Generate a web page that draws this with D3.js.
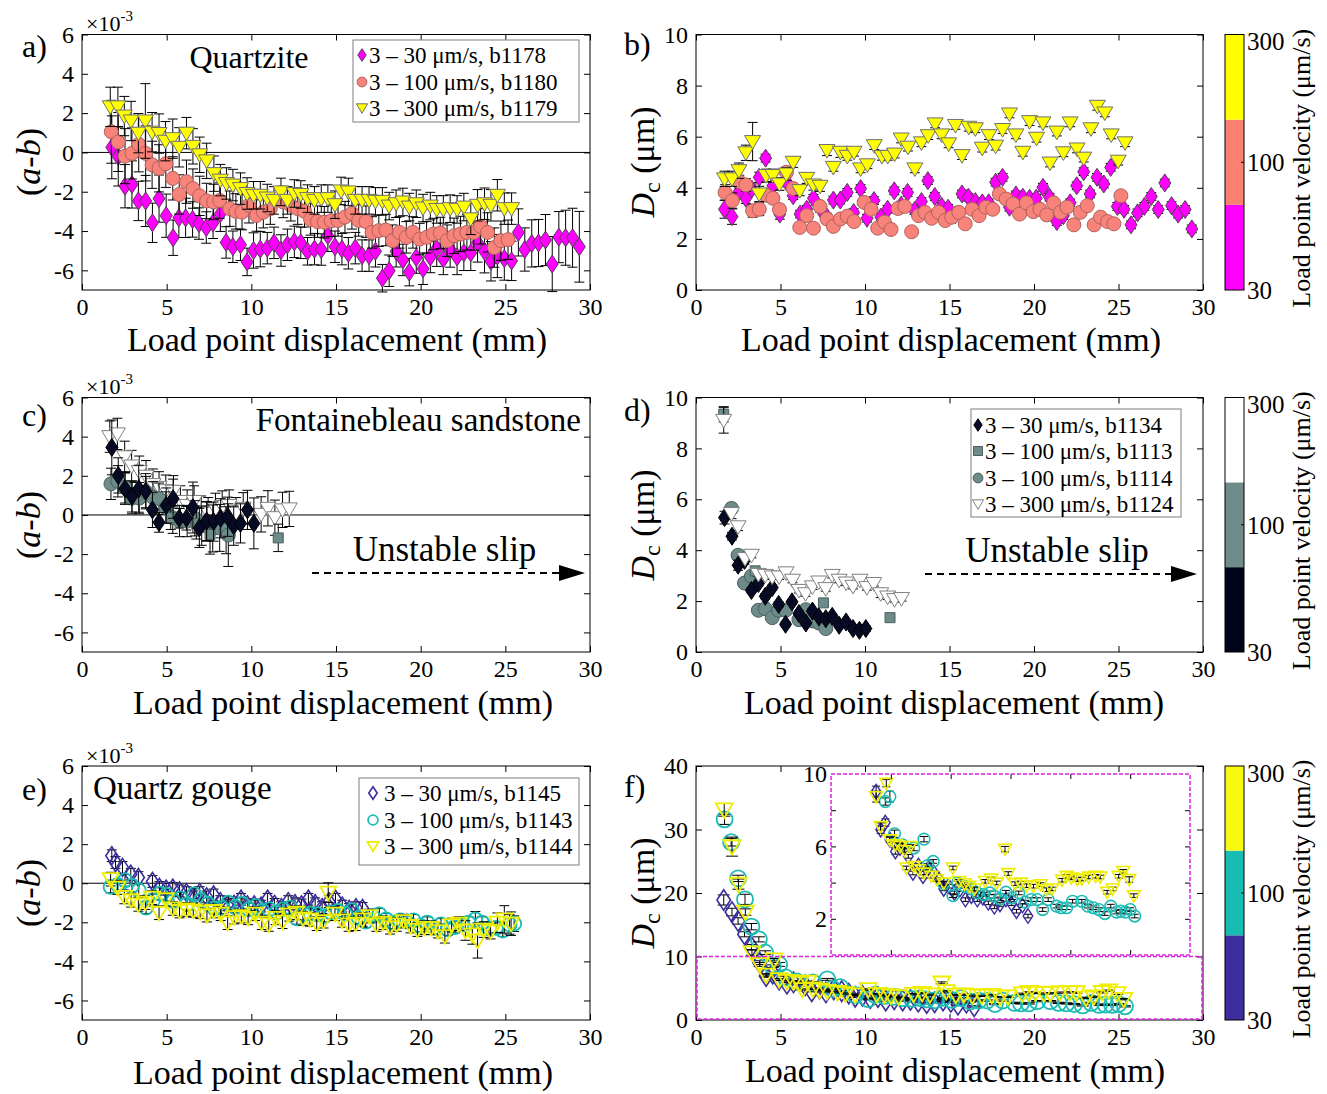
<!DOCTYPE html>
<html>
<head>
<meta charset="utf-8">
<script src="https://cdn.jsdelivr.net/npm/d3@7"></script>
<style>
body { margin: 0; background: #fff; }
svg { font-family: "Liberation Serif", "Times New Roman", serif; }
</style>
</head>
<body>
<svg id="fig" width="1327" height="1094"></svg>
<script>
// ---- data: [load point displacement (mm), value, error] ----
// a) Quartzite (a-b) x1e-3
var aB1178 = [[1.76,0.26,1.6],[2.14,-0.21,1.5],[2.54,-1.72,1.1],[2.95,-1.63,1.2],[3.33,-2.47,1.0],[3.76,-2.47,1.3],[4.16,-3.58,1.0],[4.55,-2.35,1.2],[4.97,-3.22,1.1],[5.38,-4.34,0.9],[5.72,-3.33,1.0],[6.12,-3.33,1.0],[6.53,-3.41,0.9],[6.91,-3.62,0.8],[7.34,-3.82,0.8],[7.74,-3.58,0.8],[8.17,-3.12,0.9],[8.51,-4.58,0.8],[8.91,-4.80,0.8],[9.36,-4.70,0.8],[9.75,-5.57,0.7],[10.13,-4.99,0.9],[10.53,-4.92,0.9],[10.94,-4.87,0.8],[11.34,-4.60,0.8],[11.75,-4.99,0.8],[12.13,-4.70,0.8],[12.54,-4.55,0.8],[12.92,-4.60,0.8],[13.32,-5.03,0.7],[13.73,-4.92,0.8],[14.13,-4.94,0.8],[14.52,-4.24,0.8],[14.94,-4.80,0.8],[15.35,-4.92,0.8],[15.73,-5.13,0.8],[16.14,-4.87,0.8],[16.54,-5.25,0.8],[16.95,-5.25,0.8],[17.33,-5.03,0.8],[17.74,-6.40,0.7],[18.14,-6.02,0.8],[18.55,-5.03,0.8],[18.95,-5.47,0.8],[19.33,-6.09,0.7],[19.74,-5.35,0.8],[20.14,-5.92,0.8],[20.57,-5.32,0.8],[20.95,-4.90,0.9],[21.34,-5.42,0.8],[21.74,-4.94,0.9],[22.15,-5.32,0.9],[22.55,-5.11,0.9],[22.96,-5.11,0.9],[23.36,-4.58,1.0],[23.77,-5.03,1.1],[24.15,-5.54,1.0],[24.53,-5.27,1.1],[24.94,-5.40,1.1],[25.37,-5.52,1.0],[25.77,-4.07,1.2],[26.15,-4.94,1.1],[26.56,-4.63,1.2],[26.96,-4.61,1.2],[27.37,-4.46,1.3],[27.77,-5.68,1.4],[28.16,-4.31,1.3],[28.56,-4.34,1.4],[28.97,-4.34,1.5],[29.37,-4.80,1.8]];
var aB1180 = [[1.73,1.05,1.6],[2.14,0.53,1.5],[2.54,-0.19,1.4],[2.95,-0.05,1.3],[3.35,0.41,1.4],[3.76,-0.05,1.4],[4.14,-0.63,1.2],[4.55,-0.81,1.2],[4.95,-0.58,1.2],[5.36,-1.32,1.1],[5.74,-2.14,1.0],[6.17,-1.49,1.1],[6.55,-1.84,1.0],[6.95,-2.21,1.0],[7.36,-2.47,0.9],[7.77,-2.52,0.9],[8.13,-2.45,0.9],[8.73,-2.86,0.9],[9.09,-3.00,0.9],[9.45,-3.04,0.9],[9.86,-2.69,0.9],[10.31,-3.21,0.8],[10.71,-3.04,0.8],[11.12,-2.86,0.8],[11.88,-2.52,0.8],[12.33,-2.69,0.8],[12.74,-2.86,0.8],[13.14,-3.00,0.8],[13.50,-3.41,0.8],[13.91,-3.52,0.8],[14.31,-3.55,0.8],[14.72,-3.48,0.8],[15.12,-3.46,0.8],[15.53,-3.29,0.8],[15.94,-3.10,0.8],[16.34,-3.46,0.8],[16.77,-3.52,0.8],[17.13,-4.07,0.8],[17.53,-3.98,0.8],[17.94,-3.95,0.8],[18.34,-4.49,0.8],[18.75,-4.07,0.8],[19.15,-4.32,0.8],[19.54,-4.07,0.8],[19.94,-4.41,0.8],[20.35,-4.32,0.8],[20.75,-4.15,0.8],[21.16,-4.10,0.8],[21.56,-4.49,0.8],[21.97,-4.24,0.9],[22.35,-4.15,0.9],[22.73,-4.07,0.9],[23.14,-4.07,0.9],[23.54,-3.76,0.9],[23.95,-4.07,1.0],[24.35,-4.84,1.0],[24.74,-4.49,1.0],[25.16,-4.44,1.0]];
var aB1179 = [[1.67,2.32,1.0],[2.12,2.32,1.0],[2.50,1.85,1.0],[2.90,1.60,1.0],[3.33,0.98,1.0],[3.74,1.60,1.9],[4.14,1.03,1.0],[4.55,0.96,1.0],[4.93,0.57,1.0],[5.36,0.70,1.0],[5.74,0.26,1.0],[6.17,0.98,0.8],[6.55,0.31,0.9],[6.95,-0.12,0.9],[7.36,-0.43,0.9],[7.79,-1.08,0.9],[8.17,-1.41,0.8],[8.53,-1.58,0.8],[8.91,-1.66,0.8],[9.36,-1.84,0.8],[9.75,-2.09,0.8],[10.13,-2.18,0.7],[10.53,-2.18,0.7],[10.94,-2.32,0.7],[11.34,-2.44,0.7],[11.75,-2.01,0.7],[12.13,-2.44,0.7],[12.54,-2.09,0.7],[12.92,-2.14,0.7],[13.32,-2.35,0.7],[13.73,-2.44,0.7],[14.13,-2.35,0.7],[14.52,-2.35,0.7],[14.94,-2.66,0.7],[15.30,-1.96,0.7],[15.73,-2.01,0.7],[16.14,-2.44,0.7],[16.54,-2.44,0.7],[16.95,-2.44,0.7],[17.33,-2.49,0.7],[17.74,-2.49,0.7],[18.14,-2.73,0.7],[18.55,-2.61,0.7],[18.95,-2.52,0.7],[19.33,-2.78,0.7],[19.74,-2.61,0.7],[20.14,-2.83,0.7],[20.57,-2.73,0.7],[20.95,-2.90,0.7],[21.34,-2.90,0.7],[21.74,-2.86,0.7],[22.15,-2.90,0.7],[22.55,-2.78,0.7],[22.96,-3.38,0.8],[23.36,-2.69,0.8],[23.77,-2.61,0.8],[24.15,-2.69,0.8],[24.53,-2.18,0.8],[24.94,-2.86,0.8],[25.37,-2.86,0.8]];

// b) Quartzite Dc (um)
var bB1178 = [[1.69,3.16,0.35],[2.13,2.87,0.3],[2.54,3.84,0.2],[2.95,3.59,0.2],[3.30,3.95,0.2],[3.74,4.41,0.2],[4.12,5.16,0.15],[4.55,4.08,0.15],[4.96,2.97,0.2],[5.35,4.24,0.2],[5.75,3.69,0.15],[6.16,2.97,0.15],[6.55,3.16,0.15],[6.95,3.59,0.15],[7.34,3.20,0.15],[7.75,2.85,0.15],[8.13,3.52,0.15],[8.54,3.52,0.15],[8.95,3.82,0.15],[9.33,3.03,0.15],[9.74,3.97,0.15],[10.12,2.81,0.15],[10.53,3.50,0.15],[10.94,2.85,0.15],[11.34,3.16,0.15],[11.73,3.88,0.15],[12.14,3.32,0.15],[12.52,3.82,0.15],[12.93,3.11,0.15],[13.34,3.46,0.15],[13.72,4.28,0.15],[14.13,3.66,0.15],[14.54,3.27,0.15],[14.92,3.20,0.15],[15.33,2.94,0.15],[15.74,3.76,0.15],[16.12,3.63,0.15],[16.53,3.46,0.15],[16.94,3.41,0.15],[17.32,3.41,0.15],[17.73,4.22,0.15],[18.14,4.41,0.15],[18.55,3.24,0.15],[18.93,3.72,0.15],[19.34,3.63,0.15],[19.74,3.59,0.15],[20.13,3.59,0.15],[20.53,4.02,0.15],[20.92,3.63,0.15],[21.35,2.68,0.15],[21.74,2.91,0.15],[22.14,3.41,0.15],[22.53,4.08,0.15],[22.94,4.63,0.15],[23.32,3.76,0.15],[23.73,4.41,0.15],[24.13,4.15,0.15],[24.54,4.80,0.15],[24.93,3.27,0.15],[25.33,3.16,0.15],[25.74,2.55,0.15],[26.13,3.02,0.15],[26.53,3.27,0.15],[26.94,3.66,0.15],[27.35,3.15,0.15],[27.74,4.19,0.15],[28.14,3.30,0.15],[28.53,2.97,0.15],[28.94,3.15,0.15],[29.34,2.39,0.15]];
var bB1180 = [[1.72,3.82,0.3],[2.15,3.50,0.3],[2.56,4.24,0.25],[2.95,4.11,0.25],[3.35,3.10,0.25],[3.74,3.16,0.25],[4.15,3.71,0.2],[4.55,3.59,0.2],[4.94,3.15,0.2],[5.35,4.61,0.2],[5.75,3.97,0.15],[6.14,2.45,0.1],[6.55,2.91,0.1],[6.95,2.42,0.1],[7.34,3.27,0.1],[7.75,2.78,0.1],[8.13,2.49,0.1],[8.54,2.78,0.1],[8.95,2.89,0.1],[9.35,2.68,0.1],[9.95,3.43,0.1],[10.36,3.16,0.1],[10.75,2.42,0.1],[11.15,2.66,0.1],[11.54,2.37,0.1],[11.95,3.19,0.1],[12.35,3.27,0.1],[12.76,2.28,0.1],[13.17,2.91,0.1],[13.55,3.04,0.1],[13.94,2.81,0.1],[14.35,3.04,0.1],[14.75,2.72,0.1],[15.14,2.85,0.1],[15.55,3.04,0.1],[15.93,2.59,0.1],[16.34,3.16,0.1],[16.75,2.91,0.1],[17.15,3.24,0.1],[17.56,3.16,0.1],[17.95,3.76,0.1],[18.35,3.56,0.1],[18.76,3.37,0.1],[19.15,2.97,0.1],[19.55,3.41,0.1],[19.96,3.07,0.1],[20.35,3.16,0.1],[20.75,2.94,0.1],[21.16,3.41,0.1],[21.57,3.04,0.1],[21.95,3.24,0.1],[22.36,2.55,0.1],[22.74,3.04,0.1],[23.15,3.30,0.1],[23.56,2.55,0.1],[23.94,2.85,0.1],[24.35,2.68,0.1],[24.73,2.59,0.1],[25.14,3.69,0.1]];
var bB1179 = [[1.69,4.35,0.3],[2.13,4.35,0.3],[2.54,4.67,0.3],[2.95,5.37,0.3],[3.35,5.81,0.75],[3.74,3.76,0.3],[4.15,4.48,0.25],[4.55,4.48,0.25],[4.94,4.15,0.25],[5.35,4.54,0.25],[5.75,5.00,0.2],[6.14,3.89,0.2],[6.55,4.37,0.2],[6.95,4.11,0.2],[7.34,4.06,0.2],[7.75,5.46,0.2],[8.13,4.80,0.15],[8.54,5.39,0.2],[8.95,5.23,0.15],[9.35,5.39,0.15],[9.74,4.74,0.15],[10.14,4.90,0.15],[10.55,5.65,0.15],[11.00,5.23,0.15],[11.34,5.23,0.15],[11.75,5.32,0.15],[12.14,5.91,0.15],[12.54,5.59,0.15],[12.95,4.74,0.15],[13.34,5.76,0.15],[13.74,6.04,0.15],[14.15,6.50,0.15],[14.54,6.07,0.15],[14.95,5.72,0.15],[15.35,6.44,0.15],[15.74,5.26,0.15],[16.14,6.37,0.15],[16.53,6.31,0.15],[16.94,5.55,0.15],[17.34,6.04,0.15],[17.73,5.63,0.15],[18.14,6.28,0.15],[18.55,6.89,0.15],[18.93,6.07,0.15],[19.34,5.39,0.15],[19.74,6.59,0.15],[20.15,5.94,0.15],[20.53,6.54,0.15],[20.95,4.97,0.15],[21.35,6.18,0.15],[21.74,5.37,0.15],[22.14,6.54,0.15],[22.55,5.52,0.15],[22.94,5.16,0.15],[23.37,6.31,0.15],[23.75,7.19,0.15],[24.19,6.93,0.15],[24.57,6.07,0.15],[24.98,5.04,0.15],[25.39,5.76,0.15]];

// c) Fontainebleau sandstone (a-b) x1e-3
var cB1134 = [[1.76,3.45,1.4],[2.14,2.02,0.9],[2.54,1.34,0.8],[2.95,0.95,0.8],[3.35,1.34,1.2],[3.76,1.21,0.9],[4.16,0.26,0.9],[4.55,-0.38,0.5],[4.97,0.48,0.9],[5.38,0.83,1.0],[5.74,-0.17,0.5],[6.17,-0.17,0.6],[6.55,0.38,1.3],[6.93,-0.66,1.0],[7.36,-0.31,1.0],[7.77,-0.34,1.0],[8.19,-0.17,1.0],[8.60,-0.09,1.0],[8.96,-0.55,1.0],[9.36,-0.43,1.0],[9.77,0.26,1.0],[10.15,-0.43,1.3]];
var cB1113 = [[5.24,-0.14,0.6],[6.75,-0.43,0.8],[7.56,-1.00,1.0],[11.59,-1.17,0.7]];
var cB1114 = [[1.71,1.59,0.8],[2.12,1.72,0.8],[2.54,1.41,0.8],[2.95,0.86,0.8],[3.38,0.86,0.8],[3.78,1.17,0.8],[4.19,0.90,0.8],[4.55,0.83,0.8],[4.95,0.38,0.8],[5.36,-0.14,0.8],[5.76,-0.31,0.8],[6.21,-0.31,0.8],[6.66,-0.17,0.9],[7.07,-0.55,1.0],[7.38,-0.34,1.0],[7.72,-0.69,1.2],[8.13,-0.66,1.2],[8.51,-0.78,1.2],[8.64,-1.03,1.6]];
var cB1124 = [[1.64,4.00,0.8],[2.09,4.14,0.8],[2.52,2.97,0.8],[2.93,2.50,0.8],[3.38,2.21,0.8],[3.78,1.98,0.8],[4.19,1.55,0.8],[4.55,1.41,0.8],[4.95,1.24,0.8],[5.40,1.21,0.8],[5.81,0.69,0.8],[6.21,0.48,0.8],[6.62,0.69,0.8],[7.04,0.17,0.8],[7.45,0.09,0.8],[7.88,0.31,0.8],[8.28,0.43,0.8],[8.69,0.48,0.8],[9.09,0.09,0.8],[9.52,0.34,0.8],[10.58,0.03,0.9],[10.98,0.34,0.9],[11.39,-0.14,0.9],[11.84,0.26,0.9],[12.24,0.31,0.9]];

// d) Fontainebleau sandstone Dc (um)
var dB1134 = [[1.69,5.28,0.25],[2.13,4.55,0.15],[2.49,3.41,0.2],[2.87,3.60,0.15],[3.28,2.42,0.1],[3.69,2.69,0.1],[4.10,2.19,0.1],[4.51,2.53,0.1],[4.89,1.87,0.1],[5.30,1.09,0.1],[5.68,1.97,0.1],[6.09,1.51,0.1],[6.50,1.14,0.1],[6.89,1.61,0.1],[7.27,1.38,0.1],[7.68,1.31,0.1],[8.06,1.40,0.1],[8.47,1.05,0.1],[8.88,1.18,0.1],[9.29,0.92,0.1],[9.67,0.85,0.1],[10.05,0.92,0.1]];
var dB1113 = [[1.64,9.34,0.3],[3.50,3.19,0.1],[7.54,1.93,0.1],[11.48,1.35,0.1]];
var dB1114 = [[2.10,5.64,0.2],[2.49,3.80,0.1],[2.87,2.71,0.1],[3.28,2.98,0.1],[3.69,1.64,0.1],[4.10,1.70,0.1],[4.51,1.35,0.1],[4.89,1.64,0.1],[5.30,1.64,0.1],[6.09,1.27,0.1],[6.50,1.66,0.1],[6.89,1.22,0.1],[7.27,1.14,0.1],[7.68,0.92,0.1]];
var dB1124 = [[1.64,9.10,0.5],[2.10,5.44,0.2],[2.49,4.92,0.15],[2.90,3.67,0.1],[3.28,3.80,0.1],[3.69,3.05,0.1],[4.10,3.01,0.1],[4.51,2.95,0.1],[4.92,2.95,0.1],[5.33,3.11,0.1],[5.71,2.82,0.1],[6.09,2.42,0.1],[6.48,2.29,0.1],[6.89,2.56,0.1],[7.27,2.75,0.1],[7.68,2.49,0.1],[8.06,3.01,0.1],[8.47,2.82,0.1],[8.88,2.71,0.1],[9.29,2.58,0.1],[9.70,2.82,0.1],[10.11,2.53,0.1],[10.52,2.69,0.1],[10.93,2.29,0.15],[11.34,2.16,0.1],[11.75,2.06,0.1],[12.16,2.10,0.1]];

// e) Quartz gouge (a-b) x1e-3
var eB1145 = [[1.76,1.41,0.3],[1.98,1.06,0.3],[2.39,0.81,0.3],[2.88,0.46,0.3],[3.33,0.29,0.3],[4.16,0.09,0.3],[4.57,-0.22,0.3],[4.97,-0.31,0.3],[5.36,-0.26,0.3],[5.76,-0.39,0.3],[6.17,-0.48,0.3],[6.57,-0.70,0.3],[6.95,-0.48,0.3],[7.36,-0.70,0.3],[7.77,-0.60,0.3],[8.17,-0.94,0.3],[8.58,-1.11,0.3],[8.98,-1.08,0.3],[9.39,-0.82,0.3],[9.77,-1.11,0.3],[10.17,-1.11,0.3],[10.58,-1.17,0.3],[10.96,-0.82,0.3],[11.37,-1.08,0.3],[11.77,-1.25,0.3],[12.18,-0.94,0.3],[12.58,-1.05,0.3],[12.96,-1.11,0.3],[13.37,-0.82,0.3],[13.77,-1.05,0.3],[14.18,-1.25,0.3],[14.58,-0.94,0.3],[14.97,-0.82,0.3],[15.37,-1.17,0.3],[15.78,-1.34,0.3],[16.18,-1.25,0.3],[16.57,-1.29,0.3]];
var eB1143 = [[1.69,-0.19,0.3],[2.12,-0.09,0.3],[2.54,0.15,0.3],[2.95,-0.14,0.3],[3.35,-0.36,0.3],[3.78,-1.25,0.3],[4.19,-0.87,0.3],[4.59,-0.53,0.3],[5.00,-0.60,0.3],[5.40,-0.91,0.3],[5.81,-0.77,0.3],[6.21,-1.08,0.3],[6.62,-0.57,0.3],[7.02,-0.87,0.3],[7.43,-1.05,0.3],[7.83,-1.29,0.3],[8.24,-1.25,0.3],[8.64,-0.99,0.3],[9.05,-1.22,0.3],[9.45,-1.05,0.3],[9.86,-1.34,0.3],[10.26,-1.17,0.3],[10.67,-1.42,0.3],[11.07,-1.34,0.3],[11.48,-1.51,0.3],[11.88,-1.34,0.3],[12.29,-1.25,0.3],[12.69,-1.80,0.3],[13.10,-1.59,0.3],[13.50,-1.56,0.3],[13.91,-1.59,0.3],[14.31,-1.68,0.3],[14.72,-1.51,0.3],[15.12,-1.42,0.3],[15.53,-1.56,0.3],[15.94,-1.39,0.3],[16.34,-1.77,0.3],[16.75,-1.97,0.3],[17.15,-1.68,0.3],[17.56,-1.59,0.3],[17.96,-1.85,0.3],[18.37,-2.02,0.3],[18.77,-1.90,0.3],[19.18,-1.97,0.3],[19.58,-1.90,0.3],[19.99,-2.19,0.3],[20.39,-2.02,0.3],[20.80,-2.28,0.3],[21.20,-2.11,0.3],[21.61,-2.37,0.3],[22.01,-2.25,0.3],[22.42,-2.11,0.3],[22.82,-2.02,0.3],[23.23,-1.85,0.4],[23.63,-2.02,0.3],[24.04,-2.31,0.3],[24.44,-2.28,0.3],[24.85,-2.42,0.3],[25.25,-2.11,0.5],[25.52,-2.07,0.4]];
var eB1144 = [[1.69,0.21,0.35],[2.09,-0.22,0.35],[2.50,-0.70,0.35],[2.90,-0.87,0.35],[3.33,-1.08,0.35],[3.74,-0.99,0.35],[4.14,-0.74,0.35],[4.55,-1.51,0.35],[4.95,-0.82,0.35],[5.36,-1.29,0.35],[5.76,-1.42,0.35],[6.17,-1.34,0.35],[6.57,-1.39,0.35],[6.98,-1.46,0.35],[7.38,-1.63,0.35],[7.79,-1.42,0.35],[8.19,-1.56,0.35],[8.60,-2.02,0.35],[8.99,-1.73,0.35],[9.41,-1.68,0.35],[9.81,-1.77,0.35],[10.22,-1.56,0.35],[10.62,-2.02,0.35],[11.03,-2.11,0.35],[11.43,-1.77,0.35],[11.84,-1.97,0.35],[12.24,-1.59,0.35],[12.65,-1.51,0.35],[13.05,-1.80,0.35],[13.46,-1.85,0.35],[13.86,-2.07,0.35],[14.27,-1.94,0.35],[14.54,-0.48,0.5],[14.94,-1.56,0.35],[15.35,-1.90,0.35],[15.75,-2.11,0.35],[16.16,-2.07,0.35],[16.57,-1.85,0.35],[16.97,-1.68,0.35],[17.38,-2.11,0.35],[17.78,-2.02,0.35],[18.19,-2.25,0.35],[18.59,-2.11,0.35],[19.00,-1.94,0.35],[19.40,-2.19,0.35],[19.81,-2.37,0.35],[20.21,-2.28,0.35],[20.62,-2.28,0.35],[21.02,-2.45,0.35],[21.43,-2.71,0.35],[21.83,-2.14,0.35],[22.24,-2.07,0.35],[22.64,-2.42,0.5],[23.05,-2.62,0.5],[23.36,-2.93,0.9],[23.72,-2.37,0.4],[24.13,-2.45,0.4],[24.53,-2.02,0.5],[24.94,-1.85,0.7],[25.34,-2.07,0.6]];

// f) Quartz gouge Dc (um)
var fB1145 = [[1.64,18.9,0.8],[2.13,17.0,0.6],[2.49,15.6,0.5],[2.87,13.5,0.4],[3.28,11.5,0.4],[3.77,9.03,0.3],[4.15,6.92,0.2],[4.54,7.32,0.2],[4.92,6.37,0.15],[5.38,5.72,0.15],[5.77,5.91,0.15],[6.46,5.45,0.1],[6.85,4.53,0.1],[7.31,4.94,0.1],[7.69,4.35,0.1],[8.15,4.81,0.1],[8.62,4.53,0.1],[9.04,4.17,0.1],[9.42,3.65,0.1],[9.85,3.80,0.1],[10.31,3.43,0.1],[10.77,3.61,0.1],[11.23,3.06,0.1],[11.73,3.25,0.1],[12.23,3.06,0.1],[12.69,3.16,0.1],[13.15,2.88,0.1],[13.65,2.66,0.1],[14.12,2.79,0.1],[14.62,3.06,0.1],[15.08,2.84,0.1],[15.50,2.42,0.1],[16.00,2.73,0.1],[16.46,2.15,0.1]];
var fB1143 = [[1.69,31.6,0.8],[2.08,28.0,0.6],[2.49,22.3,0.5],[2.90,19.0,0.8],[3.28,14.7,0.5],[3.72,12.7,0.4],[4.10,10.6,0.3],[4.54,8.48,0.2],[4.92,8.75,0.3],[5.31,6.70,0.2],[5.96,6.09,0.15],[6.92,5.91,0.15],[7.77,6.40,0.15],[8.08,4.94,0.1],[8.54,5.17,0.1],[9.42,3.94,0.1],[10.19,3.28,0.1],[10.58,3.98,0.1],[11.15,3.80,0.1],[11.73,3.65,0.1],[12.23,3.43,0.1],[12.77,3.34,0.1],[13.27,3.43,0.1],[13.65,3.25,0.1],[14.15,3.10,0.1],[14.62,3.47,0.1],[15.12,3.16,0.1],[15.69,3.43,0.1],[16.23,2.92,0.1],[16.73,3.06,0.1],[17.23,3.06,0.1],[17.69,2.51,0.1],[18.15,3.06,0.1],[18.85,2.70,0.1],[19.23,2.61,0.1],[19.69,2.61,0.1],[20.19,2.97,0.1],[20.96,2.97,0.1],[21.46,2.70,0.1],[21.92,2.61,0.1],[22.38,2.51,0.1],[22.88,2.29,0.1],[23.38,2.70,0.1],[23.85,2.37,0.1],[24.23,2.42,0.1],[24.62,2.37,0.1],[25.00,2.51,0.1],[25.38,2.15,0.1]];
var fB1144 = [[1.67,33.1,1.0],[2.13,27.3,1.5],[2.51,21.4,0.8],[2.92,17.0,0.5],[3.31,10.6,0.4],[3.77,8.75,0.3],[4.15,7.10,0.2],[4.62,9.49,0.2],[4.92,6.37,0.15],[5.38,6.09,0.15],[5.77,6.00,0.15],[6.15,5.78,0.1],[6.30,4.81,0.1],[6.62,6.00,0.1],[6.92,4.90,0.1],[7.31,4.72,0.1],[7.77,4.53,0.1],[8.38,4.35,0.1],[8.85,4.17,0.1],[9.42,3.98,0.1],[10.19,4.81,0.1],[10.69,4.07,0.1],[11.15,3.94,0.1],[11.54,3.80,0.1],[12.00,3.65,0.1],[12.88,4.07,0.1],[13.38,4.20,0.1],[13.85,3.98,0.1],[14.54,5.85,0.15],[14.81,4.50,0.1],[15.38,3.94,0.1],[15.85,3.98,0.1],[16.35,3.83,0.1],[16.92,3.80,0.1],[17.50,3.89,0.1],[18.00,3.61,0.1],[18.46,3.65,0.1],[19.31,4.13,0.1],[19.69,4.35,0.1],[20.08,4.26,0.1],[20.58,4.17,0.1],[20.96,4.20,0.1],[21.54,4.31,0.1],[22.12,4.35,0.1],[22.50,4.31,0.1],[23.08,3.47,0.1],[23.54,3.65,0.1],[24.04,4.35,0.1],[24.42,4.62,0.1],[24.92,4.17,0.15],[25.31,3.28,0.1]];

var xTicks = [0, 5, 10, 15, 20, 25, 30];
var abTicks = [-6, -4, -2, 0, 2, 4, 6];
var dcTicks = [0, 2, 4, 6, 8, 10];
var dcTicksF = [0, 10, 20, 30, 40];
var cbTicks = ['30', '100', '300'];

// ---- layout ----
var svg = d3.select('#fig');
var colL = [82, 590], colR = [696, 1203];
var rows = [[290, 34.5], [652, 397.5], [1020, 766]];
var cbX = [1225, 1244];

function shapePath(t, r) {
    if (t == 'd') return 'M0,' + (-r * 1.2) + 'L' + (r * 0.8) + ',0L0,' + (r * 1.2) + 'L' + (-r * 0.8) + ',0Z';
    if (t == 'v') return 'M' + (-r) + ',' + (-r * 0.75) + 'L' + r + ',' + (-r * 0.75) + 'L0,' + (r * 0.95) + 'Z';
    if (t == 's') return 'M' + (-r) + ',' + (-r) + 'H' + r + 'V' + r + 'H' + (-r) + 'Z';
    return d3.symbol(d3.symbolCircle, Math.PI * r * r)();
}

function drawSeries(g, x, y, data, st) {
    var s = g.append('g');
    s.append('g').selectAll('path').data(data).join('path')
        .attr('d', function (d) {
            var xx = x(d[0]), a = y(d[1] - d[2]), b = y(d[1] + d[2]), c = st.cap;
            return 'M' + xx + ',' + a + 'V' + b + 'M' + (xx - c) + ',' + a + 'H' + (xx + c) + 'M' + (xx - c) + ',' + b + 'H' + (xx + c);
        })
        .attr('stroke', '#000').attr('stroke-width', 1).attr('fill', 'none');
    s.append('g').selectAll('path').data(data).join('path')
        .attr('transform', function (d) { return 'translate(' + x(d[0]) + ',' + y(d[1]) + ')'; })
        .attr('d', shapePath(st.t, st.r))
        .attr('fill', st.fill).attr('stroke', st.stroke).attr('stroke-width', st.sw || 1);
}

function frame(g, x, y, yTicks) {
    var xr = x.range(), yr = y.range();
    var parts = [
        g.append('g').attr('transform', 'translate(0,' + yr[0] + ')')
            .call(d3.axisBottom(x).tickValues(xTicks).tickSize(-6).tickPadding(8).tickFormat(function (d) { return d; })),
        g.append('g').attr('transform', 'translate(0,' + yr[1] + ')')
            .call(d3.axisTop(x).tickValues(xTicks).tickSize(-6).tickFormat('')),
        g.append('g').attr('transform', 'translate(' + xr[0] + ',0)')
            .call(d3.axisLeft(y).tickValues(yTicks).tickSize(-6).tickPadding(8).tickFormat(function (d) { return d; })),
        g.append('g').attr('transform', 'translate(' + xr[1] + ',0)')
            .call(d3.axisRight(y).tickValues(yTicks).tickSize(-6).tickFormat(''))
    ];
    parts.forEach(function (a) {
        a.attr('font-family', null).attr('font-size', 24);
        a.select('.domain').remove();
        a.selectAll('line').attr('stroke', '#000');
        a.selectAll('text').attr('fill', '#000');
    });
    g.append('rect').attr('x', xr[0]).attr('y', yr[1]).attr('width', xr[1] - xr[0]).attr('height', yr[0] - yr[1])
        .attr('fill', 'none').attr('stroke', '#000');
}

function xTitle(g, cx, by) {
    g.append('text').attr('x', cx).attr('y', by).attr('font-size', 34).attr('text-anchor', 'middle')
        .text('Load point displacement (mm)');
}

function abTitle(g, x, cy) {
    var t = g.append('text').attr('transform', 'translate(' + x + ',' + cy + ') rotate(-90)')
        .attr('font-size', 34).attr('text-anchor', 'middle');
    t.append('tspan').text('(');
    t.append('tspan').attr('font-style', 'italic').text('a');
    t.append('tspan').text('-');
    t.append('tspan').attr('font-style', 'italic').text('b');
    t.append('tspan').text(')');
}

function dcTitle(g, x, cy) {
    var t = g.append('text').attr('transform', 'translate(' + x + ',' + cy + ') rotate(-90)')
        .attr('font-size', 34).attr('text-anchor', 'middle');
    t.append('tspan').attr('font-style', 'italic').text('D');
    t.append('tspan').attr('font-size', 24).attr('dy', 6).text('c');
    t.append('tspan').attr('dy', -6).text(' (\u03bcm)');
}

function expLabel(g, x, y) {
    var t = g.append('text').attr('x', x).attr('y', y).attr('font-size', 22);
    t.append('tspan').text('\u00d710');
    t.append('tspan').attr('font-size', 15).attr('dy', -10).text('-3');
}

function letter(g, x, y, s) {
    g.append('text').attr('x', x).attr('y', y).attr('font-size', 32).text(s);
}

function zeroLine(g, x, y) {
    g.append('line').attr('x1', x.range()[0]).attr('x2', x.range()[1])
        .attr('y1', y(0)).attr('y2', y(0)).attr('stroke', '#000');
}

function colorbar(g, row, colors) {
    var cy = d3.scaleLinear().domain([0, 3]).range(row);
    colors.forEach(function (c, i) {
        g.append('rect').attr('x', cbX[0]).attr('y', cy(i + 1)).attr('width', cbX[1] - cbX[0])
            .attr('height', cy(i) - cy(i + 1)).attr('fill', c);
    });
    g.append('rect').attr('x', cbX[0]).attr('y', row[1]).attr('width', cbX[1] - cbX[0])
        .attr('height', row[0] - row[1]).attr('fill', 'none').attr('stroke', '#000');
    var tk = [row[0], (row[0] + row[1]) / 2, row[1] + 7];
    cbTicks.forEach(function (s, i) {
        g.append('text').attr('x', cbX[1] + 3).attr('y', tk[i]).attr('dy', '0.35em')
            .attr('font-size', 25).text(s);
    });
    g.append('line').attr('x1', cbX[1] - 3).attr('x2', cbX[1]).attr('y1', tk[1]).attr('y2', tk[1]).attr('stroke', '#000');
    g.append('text').attr('transform', 'translate(1310,' + ((row[0] + row[1]) / 2 + 6) + ') rotate(-90)')
        .attr('font-size', 26).attr('text-anchor', 'middle').text('Load point velocity (\u03bcm/s)');
}

function legend(g, box, items, mx, tx) {
    g.append('rect').attr('x', box[0]).attr('y', box[1]).attr('width', box[2]).attr('height', box[3])
        .attr('fill', '#fff').attr('stroke', '#7f7f7f');
    items.forEach(function (it) {
        var st = it[0];
        g.append('path').attr('transform', 'translate(' + mx + ',' + it[2] + ')')
            .attr('d', shapePath(st.t, st.lr || st.r * 0.7))
            .attr('fill', st.fill).attr('stroke', st.stroke).attr('stroke-width', st.sw || 1);
        g.append('text').attr('x', tx).attr('y', it[2]).attr('dy', '0.35em').attr('font-size', 23).text(it[1]);
    });
}

function unstable(g, x0, x1, ty, ay) {
    g.append('text').attr('x', (x0 + x1) / 2 - 4).attr('y', ty).attr('font-size', 35)
        .attr('text-anchor', 'middle').text('Unstable slip');
    g.append('line').attr('x1', x0).attr('x2', x1 - 22).attr('y1', ay).attr('y2', ay)
        .attr('stroke', '#000').attr('stroke-width', 2).attr('stroke-dasharray', '7,5');
    g.append('path').attr('d', 'M' + (x1 - 26) + ',' + (ay - 8) + 'L' + x1 + ',' + ay + 'L' + (x1 - 26) + ',' + (ay + 8) + 'Z')
        .attr('fill', '#000');
}

// marker styles
var sMag = { t: 'd', r: 7.5, fill: '#ff00ff', stroke: '#5a3a5a', cap: 5 };
var sSal = { t: 'o', r: 7, fill: '#f7837a', stroke: '#b0625c', cap: 5 };
var sYel = { t: 'v', r: 8, fill: '#ffff00', stroke: '#707070', cap: 5 };
var sNavy = { t: 'd', r: 7.5, fill: '#060a24', stroke: '#000', cap: 5 };
var sGrySq = { t: 's', r: 5, fill: '#6d8b89', stroke: '#4a5f5e', cap: 5, lr: 4.5 };
var sGryO = { t: 'o', r: 7, fill: '#6d8b89', stroke: '#4a5f5e', cap: 5 };
var sWhite = { t: 'v', r: 8, fill: '#fff', stroke: '#808080', cap: 5 };
var sInd = { t: 'd', r: 7.5, fill: 'none', stroke: '#3b2e9e', sw: 1.6, cap: 5 };
var sTeal = { t: 'o', r: 7, fill: 'none', stroke: '#1bbcb4', sw: 1.8, cap: 5 };
var sYelO = { t: 'v', r: 8, fill: 'none', stroke: '#eeee00', sw: 1.8, cap: 5 };

var g = svg.append('g');

// ---------- a) ----------
(function () {
    var x = d3.scaleLinear().domain([0, 30]).range(colL);
    var y = d3.scaleLinear().domain([-7, 6]).range(rows[0]);
    zeroLine(g, x, y);
    drawSeries(g, x, y, aB1178, sMag);
    drawSeries(g, x, y, aB1180, sSal);
    drawSeries(g, x, y, aB1179, sYel);
    frame(g, x, y, abTicks);
    legend(g, [353, 40, 226, 82], [[sMag, '3 \u2013 30 \u03bcm/s, b1178', 55], [sSal, '3 \u2013 100 \u03bcm/s, b1180', 82], [sYel, '3 \u2013 300 \u03bcm/s, b1179', 108]], 362, 369);
    g.append('text').attr('x', 249).attr('y', 68).attr('font-size', 32).attr('text-anchor', 'middle').text('Quartzite');
    expLabel(g, 86, 31);
    letter(g, 22, 57, 'a)');
    abTitle(g, 40, 162);
    xTitle(g, 337, 351);
})();

// ---------- b) ----------
(function () {
    var x = d3.scaleLinear().domain([0, 30]).range(colR);
    var y = d3.scaleLinear().domain([0, 10]).range(rows[0]);
    drawSeries(g, x, y, bB1178, sMag);
    drawSeries(g, x, y, bB1180, sSal);
    drawSeries(g, x, y, bB1179, sYel);
    frame(g, x, y, dcTicks);
    colorbar(g, rows[0], ['#ff00ff', '#fa8072', '#ffff00']);
    letter(g, 624, 55, 'b)');
    dcTitle(g, 654, 162);
    xTitle(g, 951, 351);
})();

// ---------- c) ----------
(function () {
    var x = d3.scaleLinear().domain([0, 30]).range(colL);
    var y = d3.scaleLinear().domain([-7, 6]).range(rows[1]);
    zeroLine(g, x, y);
    drawSeries(g, x, y, cB1124, sWhite);
    drawSeries(g, x, y, cB1114, sGryO);
    drawSeries(g, x, y, cB1113, sGrySq);
    drawSeries(g, x, y, cB1134, sNavy);
    frame(g, x, y, abTicks);
    g.append('text').attr('x', 581).attr('y', 431).attr('font-size', 33).attr('text-anchor', 'end').text('Fontainebleau sandstone');
    unstable(g, 312, 585, 561, 573);
    expLabel(g, 86, 394);
    letter(g, 22, 426, 'c)');
    abTitle(g, 40, 525);
    xTitle(g, 343, 714);
})();

// ---------- d) ----------
(function () {
    var x = d3.scaleLinear().domain([0, 30]).range(colR);
    var y = d3.scaleLinear().domain([0, 10]).range(rows[1]);
    drawSeries(g, x, y, dB1114, sGryO);
    drawSeries(g, x, y, dB1113, sGrySq);
    drawSeries(g, x, y, dB1134, sNavy);
    drawSeries(g, x, y, dB1124, sWhite);
    frame(g, x, y, dcTicks);
    legend(g, [971, 409, 210, 108], [[sNavy, '3 \u2013 30 \u03bcm/s, b1134', 425], [sGrySq, '3 \u2013 100 \u03bcm/s, b1113', 451], [sGryO, '3 \u2013 100 \u03bcm/s, b1114', 478], [sWhite, '3 \u2013 300 \u03bcm/s, b1124', 504]], 978, 985);
    unstable(g, 925, 1197, 562, 574);
    colorbar(g, rows[1], ['#00041a', '#6e8c8a', '#ffffff']);
    letter(g, 624, 421, 'd)');
    dcTitle(g, 654, 525);
    xTitle(g, 954, 714);
})();

// ---------- e) ----------
(function () {
    var x = d3.scaleLinear().domain([0, 30]).range(colL);
    var y = d3.scaleLinear().domain([-7, 6]).range(rows[2]);
    zeroLine(g, x, y);
    drawSeries(g, x, y, eB1145, sInd);
    drawSeries(g, x, y, eB1143, sTeal);
    drawSeries(g, x, y, eB1144, sYelO);
    frame(g, x, y, abTicks);
    legend(g, [359, 778, 220, 87], [[sInd, '3 \u2013 30 \u03bcm/s, b1145', 793], [sTeal, '3 \u2013 100 \u03bcm/s, b1143', 820], [sYelO, '3 \u2013 300 \u03bcm/s, b1144', 846]], 373, 384);
    g.append('text').attr('x', 93).attr('y', 799).attr('font-size', 33).text('Quartz gouge');
    expLabel(g, 86, 763);
    letter(g, 22, 800, 'e)');
    abTitle(g, 40, 893);
    xTitle(g, 343, 1084);
})();

// ---------- f) ----------
(function () {
    var x = d3.scaleLinear().domain([0, 30]).range(colR);
    var y = d3.scaleLinear().domain([0, 40]).range(rows[2]);
    var big = { r: 8.5, cap: 6 };
    drawSeries(g, x, y, fB1145, Object.assign({}, sInd, big));
    drawSeries(g, x, y, fB1143, Object.assign({}, sTeal, { r: 8, cap: 6 }));
    drawSeries(g, x, y, fB1144, Object.assign({}, sYelO, big));
    frame(g, x, y, dcTicksF);
    g.append('rect').attr('x', x(0) + 1).attr('y', y(10)).attr('width', x(30) - x(0) - 2).attr('height', y(0) - y(10) - 1)
        .attr('fill', 'none').attr('stroke', '#e020e0').attr('stroke-width', 1.5).attr('stroke-dasharray', '4,2');

    // inset
    var xi = d3.scaleLinear().domain([0, 30]).range([831, 1190]);
    var yi = d3.scaleLinear().domain([0, 10]).range([955, 774]);
    g.append('rect').attr('x', 831).attr('y', 774).attr('width', 359).attr('height', 181).attr('fill', '#fff');
    svg.append('defs').append('clipPath').attr('id', 'inclip').append('rect')
        .attr('x', 831).attr('y', 774).attr('width', 359).attr('height', 181);
    var gi = g.append('g').attr('clip-path', 'url(#inclip)');
    var keep = function (d) { return d[1] < 10.4; };
    drawSeries(gi, xi, yi, fB1145.filter(keep), Object.assign({}, sInd, { r: 6, cap: 4, sw: 1.4 }));
    drawSeries(gi, xi, yi, fB1143.filter(keep), Object.assign({}, sTeal, { r: 5.8, cap: 4, sw: 1.6 }));
    drawSeries(gi, xi, yi, fB1144.filter(keep), Object.assign({}, sYelO, { r: 6.5, cap: 4, sw: 1.6 }));
    var it = [
        g.append('g').attr('transform', 'translate(0,955)').call(d3.axisBottom(xi).tickValues([5, 10, 15, 20, 25]).tickSize(-5).tickFormat('')),
        g.append('g').attr('transform', 'translate(0,774)').call(d3.axisTop(xi).tickValues([5, 10, 15, 20, 25]).tickSize(-5).tickFormat('')),
        g.append('g').attr('transform', 'translate(831,0)').call(d3.axisLeft(yi).tickValues([2, 4, 6, 8]).tickSize(-5).tickFormat('')),
        g.append('g').attr('transform', 'translate(1190,0)').call(d3.axisRight(yi).tickValues([2, 4, 6, 8]).tickSize(-5).tickFormat(''))
    ];
    it.forEach(function (a) { a.select('.domain').remove(); a.selectAll('line').attr('stroke', '#000'); });
    [10, 6, 2].forEach(function (v) {
        g.append('text').attr('x', 827).attr('y', yi(v)).attr('dy', '0.35em').attr('text-anchor', 'end')
            .attr('font-size', 24).text(v);
    });
    g.append('rect').attr('x', 831).attr('y', 774).attr('width', 359).attr('height', 181)
        .attr('fill', 'none').attr('stroke', '#e020e0').attr('stroke-width', 1.5).attr('stroke-dasharray', '4,2');

    colorbar(g, rows[2], ['#3c2e9e', '#17bdb3', '#f8f810']);
    letter(g, 624, 797, 'f)');
    dcTitle(g, 654, 893);
    xTitle(g, 955, 1082);
})();
</script>
</body>
</html>
